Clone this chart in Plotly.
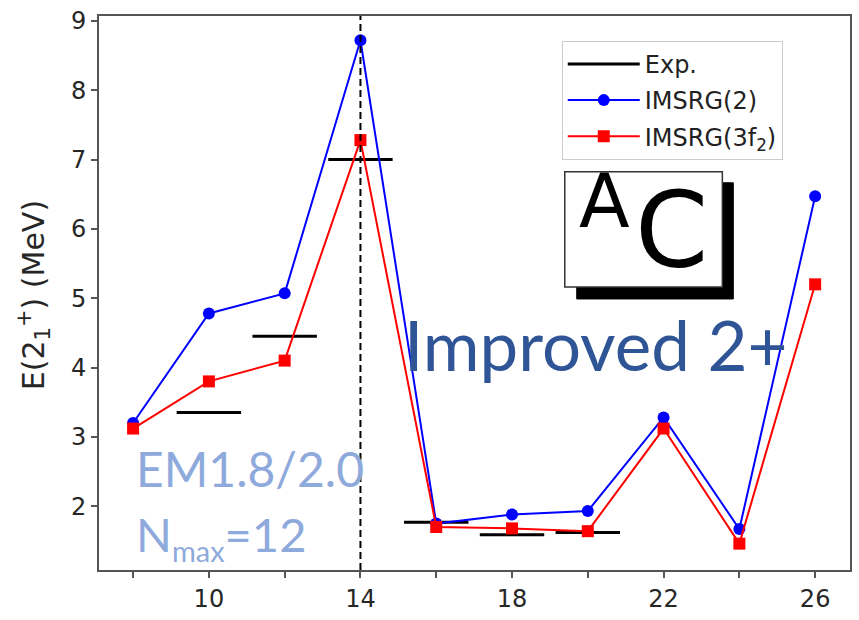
import plotly.graph_objects as go

# ---- data ----
A_vals = [8, 10, 12, 14, 16, 18, 20, 22, 24, 26]
imsrg2 = [3.20, 4.78, 5.07, 8.72, 1.75, 1.88, 1.93, 3.28, 1.67, 6.47]
imsrg3 = [3.12, 3.80, 4.10, 7.28, 1.70, 1.68, 1.64, 3.12, 1.46, 5.20]
exp_A = [10, 12, 14, 16, 18, 20]
exp_E = [3.35, 4.45, 7.00, 1.77, 1.59, 1.62]
exp_halfwidth = 0.85
x_tickvals = [8, 10, 12, 14, 16, 18, 20, 22, 24, 26]
x_ticktext = ["", "10", "", "14", "", "18", "", "22", "", "26"]
y_tickvals = [2, 3, 4, 5, 6, 7, 8, 9]

W, H = 859, 620
L, R, T, B = 99, 7, 15, 47
PW, PH = W - L - R, H - T - B


def px(x):
    return (x - L) / PW


def py(y):
    return (H - B - y) / PH


# Exp segments
ex, ey = [], []
for a, e in zip(exp_A, exp_E):
    ex += [a - exp_halfwidth, a + exp_halfwidth, None]
    ey += [e, e, None]

fig = go.Figure()
fig.add_trace(go.Scatter(x=ex, y=ey, mode="lines", name="Exp.",
                         line=dict(color="black", width=3), legendgroup="a"))
fig.add_trace(go.Scatter(x=A_vals, y=imsrg2, mode="lines+markers", name="IMSRG(2)",
                         line=dict(color="#0000ff", width=2),
                         marker=dict(symbol="circle", size=12, color="#0000ff"),
                         legendgroup="b"))
fig.add_trace(go.Scatter(x=A_vals, y=imsrg3, mode="lines+markers", name="IMSRG(3f<sub>2</sub>)",
                         line=dict(color="#ff0000", width=2),
                         marker=dict(symbol="square", size=12, color="#ff0000"),
                         legendgroup="c"))

axis_common = dict(showline=True, linecolor="#555555", linewidth=2, mirror=True,
                   ticks="outside", ticklen=6, tickwidth=1.5, tickcolor="#555555",
                   showgrid=False, zeroline=False,
                   tickfont=dict(family="DejaVu Sans", size=24, color="#262626"))

fig.update_xaxes(range=[7.1, 26.92], tickvals=x_tickvals, ticktext=x_ticktext, **axis_common)
fig.update_yaxes(range=[1.08, 9.07], tickvals=y_tickvals, **axis_common)

shapes = [
    dict(type="line", xref="x", yref="paper", x0=14, x1=14, y0=0, y1=1,
         line=dict(color="black", width=2, dash="7px,4px")),
    dict(type="rect", xref="paper", yref="paper", x0=px(578), x1=px(735), y0=py(300), y1=py(183),
         fillcolor="black", line=dict(color="black", width=1)),
    dict(type="rect", xref="paper", yref="paper", x0=px(566), x1=px(724), y0=py(288), y1=py(172),
         fillcolor="white", line=dict(color="#333333", width=1.5)),
]

annotations = [
    dict(text="E(2<sub>1</sub><sup>+</sup>) (MeV)", xref="paper", yref="paper",
         x=px(34), y=py(296), textangle=-90, showarrow=False,
         font=dict(family="DejaVu Sans", size=30, color="#262626"),
         xanchor="center", yanchor="middle"),
    dict(text="A", xref="paper", yref="paper", x=px(606), y=py(201), showarrow=False,
         font=dict(family="DejaVu Sans", size=74, color="black"), xanchor="center", yanchor="middle"),
    dict(text="C", xref="paper", yref="paper", x=px(673), y=py(232), showarrow=False,
         font=dict(family="DejaVu Sans", size=105, color="black"), xanchor="center", yanchor="middle"),
    dict(text="Improved 2+", xref="paper", yref="paper", x=px(403), y=py(346), showarrow=False,
         font=dict(family="Lato", size=69, color="#2F5597"), xanchor="left", yanchor="middle"),
    dict(text="EM1.8/2.0", xref="paper", yref="paper", x=px(134), y=py(471), showarrow=False,
         font=dict(family="Lato", size=48, color="#8EA9DB"), xanchor="left", yanchor="middle"),
    dict(text="N<sub><span style='font-size:29px'>max</span></sub>=12", xref="paper", yref="paper",
         x=px(134), y=py(540), showarrow=False,
         font=dict(family="Lato", size=47, color="#8EA9DB"), xanchor="left", yanchor="middle"),
]

fig.update_layout(
    width=W, height=H,
    margin=dict(l=L, r=R, t=T, b=B),
    plot_bgcolor="white", paper_bgcolor="white",
    shapes=shapes, annotations=annotations,
    showlegend=True,
    legend=dict(x=px(563), y=py(40), xanchor="left", yanchor="top",
                bgcolor="rgba(255,255,255,0.85)", bordercolor="#cccccc", borderwidth=1,
                font=dict(family="DejaVu Sans", size=24, color="#222222"),
                tracegroupgap=2, itemwidth=72),
)

fig.write_html("out.html")
